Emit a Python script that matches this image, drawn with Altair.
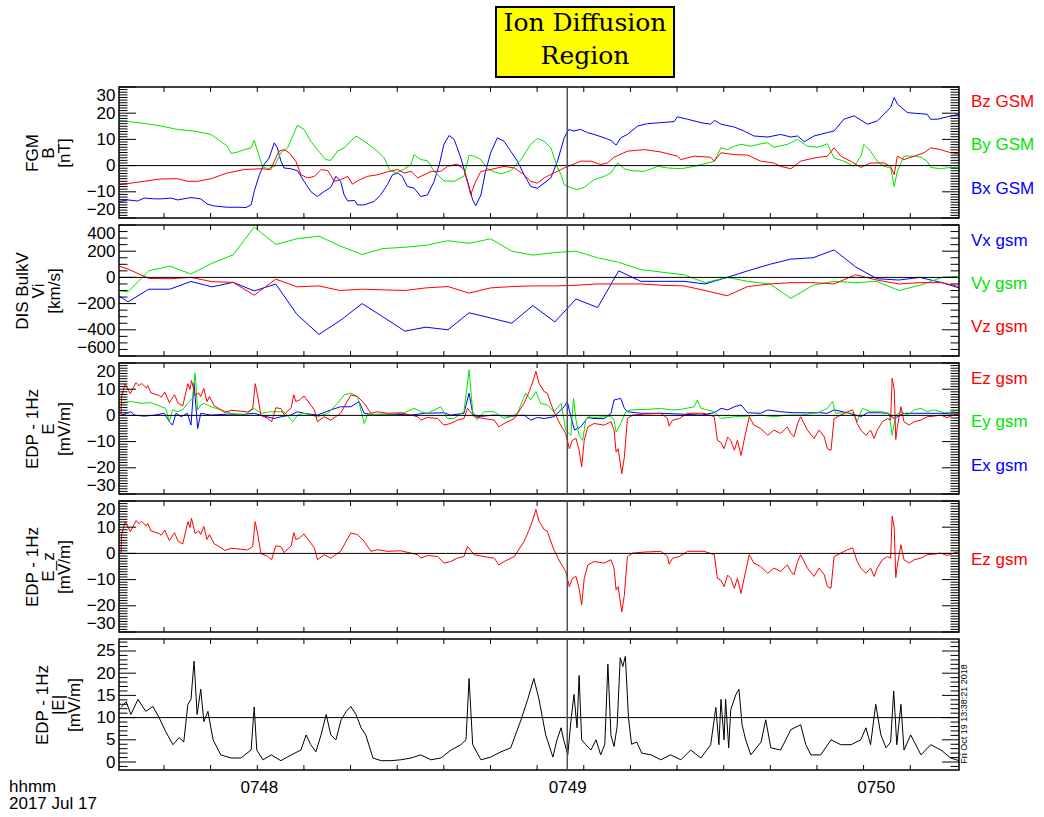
import math
import altair as alt
import pandas as pd

# ---------------- time axis: seconds after 07:47:00 UT, 2017 Jul 17 ----------------
T_START, T_END = 32.8, 196.2
T_MARK = 120.0                      # vertical marker line (07:49:00)
X_LABEL_VALUES = [60, 120, 180]
X_LABELS = ["0748", "0749", "0750"]
X_MINOR_TICKS = [41.55, 50.62, 59.70, 68.77, 77.84, 86.92, 95.99, 105.06, 114.13,
                 123.21, 132.28, 141.35, 150.43, 159.50, 168.57, 177.64, 186.72]

# ---------------- Panel 1: FGM B (nT) ----------------
bx_t = [32.8, 34.5, 36.4, 37.7, 39.7, 41.0, 42.9, 44.2, 46.8, 48.7, 50.0, 51.3, 53.9, 55.9, 57.5,
        58.5, 59.1, 60.1, 61.0, 62.0, 63.0, 63.6, 64.3, 64.9, 66.2, 67.5, 68.8, 70.1, 71.4, 72.7,
        74.0, 75.0, 75.9, 76.6, 77.3, 78.6, 79.2, 80.5, 82.4, 83.7, 85.0, 86.0, 87.0, 87.9, 88.9,
        90.2, 91.5, 92.8, 94.1, 95.1, 96.0, 97.0, 98.0, 99.3, 100.6, 101.6, 102.2, 103.2, 104.1,
        105.1, 106.4, 107.7, 109.0, 110.3, 111.6, 112.9, 114.2, 115.5, 116.8, 118.1, 119.4, 120.3,
        121.3, 122.6, 123.9, 125.2, 127.2, 128.5, 129.5, 130.4, 131.7, 133.7, 135.6, 138.2, 140.8,
        141.4, 143.4, 146.0, 147.9, 148.6, 149.9, 152.5, 154.4, 156.3, 159.0, 161.5, 163.5, 164.8,
        166.1, 168.0, 170.6, 171.9, 173.8, 175.8, 178.4, 180.3, 182.9, 183.6, 184.2, 186.2, 188.8,
        190.0, 190.7, 192.0, 193.9, 196.2]
bx_v = [-13.7, -13.1, -13.5, -12.4, -12.7, -12.7, -12.4, -13.1, -12.2, -12.7, -14.7, -15.4, -15.9,
        -15.9, -16.0, -15.0, -9.9, -3.5, 0.4, 2.9, 8.7, 6.8, 1.7, -0.9, -1.2, -1.9, -6.0, -9.9, -11.8,
        -9.9, -8.3, -4.1, -6.0, -11.2, -13.5, -13.3, -15.0, -15.0, -13.7, -11.2, -7.3, -3.5, -2.8,
        -4.1, -8.0, -8.6, -11.8, -11.2, -6.0, 0.4, 8.1, 11.5, 10.0, 2.9, -6.0, -13.1, -15.3, -11.2,
        -2.2, 4.9, 10.6, 9.3, 5.5, 1.7, -3.5, -8.0, -8.6, -6.7, -4.7, 1.7, 10.6, 13.8, 13.2, 13.8,
        12.6, 11.9, 10.6, 9.6, 7.8, 10.6, 11.9, 15.1, 16.0, 16.4, 16.8, 18.6, 17.7, 16.4, 15.8, 17.3,
        15.8, 14.7, 13.2, 11.3, 10.9, 11.9, 10.9, 11.3, 9.1, 11.3, 12.6, 13.2, 17.7, 19.0, 15.8, 17.0,
        22.2, 26.0, 23.5, 20.2, 19.8, 19.6, 17.7, 17.7, 18.6, 19.6]

by_t = [32.8, 34.5, 37.7, 41.0, 44.2, 47.4, 50.7, 53.9, 54.6, 55.9, 57.2, 58.5, 59.1, 60.7, 61.7,
        63.0, 64.3, 65.6, 67.5, 68.8, 70.1, 71.4, 73.0, 74.0, 75.3, 76.6, 78.9, 80.5, 83.1, 84.4,
        85.4, 86.7, 88.3, 89.6, 90.2, 91.5, 92.8, 94.1, 96.0, 98.0, 99.9, 100.9, 101.9, 103.2, 104.5,
        105.8, 107.1, 109.0, 111.0, 112.9, 114.2, 115.5, 116.8, 118.1, 118.8, 119.4, 120.1, 122.0,
        123.3, 125.2, 127.2, 128.5, 129.8, 131.1, 132.4, 135.0, 137.6, 139.5, 142.1, 144.7, 147.3,
        148.6, 149.9, 151.2, 152.5, 153.8, 155.7, 157.6, 159.0, 160.2, 162.8, 164.8, 166.7, 168.7,
        170.6, 171.9, 173.8, 175.8, 177.1, 177.7, 179.0, 180.3, 181.6, 182.9, 183.6, 184.2, 185.5,
        187.5, 188.8, 190.0, 190.7, 192.6, 194.6, 196.2]
by_v = [17.0, 16.8, 16.1, 15.1, 13.8, 13.2, 11.9, 7.4, 4.6, 5.2, 6.1, 6.8, 9.6, -0.3, -1.2, -0.3,
        4.9, 6.8, 15.4, 13.8, 9.3, 6.1, 2.3, 2.0, 5.5, 6.8, 11.3, 9.3, 5.5, 2.9, -1.6, -2.8, -1.3,
        0.4, 4.2, 2.3, 1.9, -2.2, -5.8, -6.0, -4.1, 4.0, 3.6, 2.3, -1.2, -2.4, -3.2, -1.9, 2.3, 8.1,
        10.4, 9.3, 6.8, -0.9, -3.5, -7.3, -8.0, -9.2, -8.3, -5.4, -4.1, -2.8, 1.0, -1.2, -1.9, -2.2,
        -0.3, -0.9, -1.2, -0.3, 1.0, 1.7, 6.8, 6.1, 7.4, 8.1, 7.4, 8.3, 8.7, 7.0, 8.1, 10.0, 7.4, 7.0,
        8.3, 2.9, 1.7, -0.3, 3.6, 8.1, 5.5, 1.7, -0.3, -0.9, -8.0, -2.2, 3.6, 3.6, 3.2, 1.7, -0.7,
        -1.2, -0.7, -0.9]

bz_t = [32.8, 35.1, 37.7, 39.7, 41.0, 44.2, 46.1, 48.1, 50.7, 53.9, 57.2, 60.4, 62.3, 63.3, 63.9,
        64.9, 65.9, 67.2, 68.2, 69.5, 70.8, 72.1, 73.4, 74.7, 75.9, 77.3, 78.2, 79.2, 81.1, 83.1,
        85.0, 87.0, 88.3, 89.6, 90.9, 93.5, 95.4, 96.7, 98.6, 99.9, 100.9, 101.2, 102.2, 103.2, 105.1,
        107.7, 109.7, 111.6, 112.9, 114.2, 115.5, 117.4, 119.4, 121.3, 122.6, 124.6, 126.5, 127.8,
        129.1, 131.7, 135.0, 138.2, 141.4, 142.1, 144.7, 147.9, 148.6, 149.9, 152.5, 155.1, 157.6,
        160.2, 161.5, 163.5, 165.4, 168.0, 170.6, 171.9, 173.2, 175.1, 177.1, 179.0, 181.6, 182.9,
        183.6, 184.2, 185.5, 187.5, 189.4, 190.7, 192.6, 194.6, 196.2]
bz_v = [-7.3, -6.7, -6.0, -5.4, -5.1, -5.0, -6.0, -6.0, -5.0, -2.8, -1.5, -1.2, -1.5, 2.9, 5.5, 6.1,
        4.9, 1.7, -3.5, -4.7, -4.1, -1.5, -1.9, -6.0, -5.4, -4.1, -7.1, -5.8, -4.1, -3.5, -2.4, -1.5,
        -2.8, -2.2, -4.7, -2.2, -2.2, -0.3, 0.6, -1.5, -8.6, -11.2, -6.0, -2.2, -1.5, -0.3, -0.9,
        -3.5, -6.0, -6.7, -4.7, -2.8, -0.9, 0.6, 1.7, 1.7, 0.4, 1.0, 3.2, 5.5, 6.1, 5.2, 3.6, 2.3,
        3.6, 3.2, 1.7, 4.9, 4.2, 4.0, 1.7, 1.0, -0.3, -1.2, 1.7, 2.9, 3.6, 6.8, 3.6, 1.7, -0.7, 1.0,
        1.0, -0.3, -3.5, 3.6, 2.3, 3.6, 4.9, 6.8, 6.1, 4.9, 4.5]

# ---------------- Panel 2: DIS bulk velocity (km/s) ----------------
v_t = [32.8, 34.55, 38.6, 42.7, 46.8, 50.9, 55.0, 59.1, 63.3, 67.4, 71.7, 75.8, 80.1, 84.1, 88.4,
       92.5, 96.8, 100.9, 105.1, 109.2, 113.3, 117.6, 121.7, 125.9, 130.0, 134.3, 138.4, 142.7,
       146.8, 151.1, 155.1, 159.4, 163.5, 167.8, 171.9, 176.1, 180.2, 184.5, 188.6, 192.9, 196.2]
vx_v = [-141, -187, -90, -90, -31, -72, -38, -103, -51, -282, -435, -330, -200, -300, -410, -380,
        -400, -270, -310, -350, -215, -340, -165, -230, 50, -30, -30, -30, -50, 0, 50, 100, 140, 150,
        210, 80, -10, -20, 0, -40, -80]
vy_v = [-103, -110, 51, 85, 26, 108, 172, 385, 251, 295, 315, 240, 175, 220, 230, 245, 280, 260, 295,
        200, 170, 190, 200, 150, 115, 60, 40, 20, -40, 0, -30, -50, -160, -60, -30, -40, -30, -100,
        -60, 0, 10]
vz_v = [85, 64, -8, -10, 0, -33, -38, -136, -13, -72, -65, -100, -90, -95, -100, -80, -70, -120, -80,
        -70, -65, -65, -60, -50, -50, -50, -60, -65, -100, -140, -70, -50, -40, -40, -50, 20, -20, -50,
        -40, -40, -70]

# ---------------- Panel 3/4: EDP E (mV/m) ----------------
ez_t = [33.2, 33.3, 34.0, 35.0, 36.1, 36.7, 37.2, 38.1, 38.4, 39.0, 40.6, 41.0, 41.7, 42.6, 43.6,
        44.3, 45.2, 46.2, 46.6, 46.9, 47.6, 48.3, 48.7, 49.3, 49.9, 50.4, 51.3, 52.3, 53.4, 54.6,
        56.5, 57.8, 58.8, 59.3, 59.8, 60.4, 61.7, 62.5, 63.3, 64.3, 64.9, 66.3, 66.8, 67.2, 67.9,
        68.8, 70.8, 71.4, 72.7, 74.0, 75.9, 77.9, 79.2, 80.5, 81.8, 83.1, 85.0, 87.6, 89.6, 90.9,
        91.5, 92.8, 94.8, 96.0, 97.3, 98.6, 99.9, 100.6, 101.9, 103.8, 105.8, 106.7, 107.7, 109.7,
        111.6, 112.6, 113.2, 113.9, 114.5, 115.5, 116.1, 116.8, 117.4, 118.7, 119.7, 120.4, 121.0,
        121.7, 122.3, 122.8, 123.3, 124.0, 125.2, 127.2, 128.5, 129.1, 129.5, 129.9, 130.6, 131.1,
        131.7, 132.7, 135.0, 138.2, 139.5, 139.8, 140.5, 141.8, 143.4, 146.6, 148.6, 149.2, 149.9,
        150.5, 151.2, 151.8, 152.5, 153.1, 153.8, 154.4, 155.4, 156.3, 157.6, 159.0, 160.2, 161.5,
        162.8, 163.5, 164.1, 164.8, 165.4, 166.7, 168.0, 169.0, 170.0, 170.6, 171.3, 171.9, 173.2,
        174.5, 175.5, 176.4, 177.1, 178.1, 179.0, 179.7, 180.3, 181.3, 182.3, 182.9, 183.2, 183.6,
        183.9, 184.2, 184.9, 185.5, 186.5, 187.5, 188.8, 190.0, 191.3, 192.6, 193.9, 195.2, 196.0]
ez_v = [0.0, 7.2, 12.1, 8.3, 12.5, 11.4, 12.2, 10.5, 11.4, 8.6, 7.6, 6.9, 8.9, 4.9, 7.9, 4.6, 3.6,
        12.1, 9.9, 13.4, 7.6, 8.6, 7.2, 10.3, 5.3, 7.2, 3.7, 2.6, 1.1, 2.0, 1.6, 1.3, 2.6, 12.1, 7.2,
        0.0, -1.1, -2.4, 2.9, 2.6, 0.3, 2.9, 7.9, 5.3, 5.9, 7.4, 2.1, -2.4, -0.5, -1.8, 0.8, 7.8, 7.2,
        4.6, 0.8, 1.4, 0.8, 1.0, 0.1, -0.5, -1.8, -0.8, -1.2, -3.7, -3.1, -1.8, -1.2, 2.7, -0.5, -1.2,
        -1.8, -4.4, -3.1, -1.2, 4.6, 9.1, 12.3, 16.8, 12.3, 9.1, 8.5, 4.6, 1.4, -3.7, -6.9, -12.7,
        -9.5, -8.8, -13.3, -19.7, -9.5, -4.4, -3.1, -3.7, -2.4, -5.6, -14.0, -12.7, -22.3, -16.0,
        -1.2, 0.1, 0.5, 0.8, -1.2, -4.1, -1.8, -1.2, 0.8, 0.8, -0.5, -9.5, -10.3, -12.7, -8.3, -9.5,
        -13.3, -9.5, -15.3, -9.5, -0.5, -3.7, -5.0, -7.6, -5.6, -6.9, -4.4, -6.9, -8.2, -3.1, -0.5,
        -5.6, -8.8, -5.6, -8.2, -12.7, -13.3, -1.2, 0.1, 1.4, 2.1, -3.1, -5.6, -7.6, -5.6, -8.8,
        -5.6, -2.4, -1.2, -1.8, 14.2, 9.7, -9.2, -4.6, 3.3, -2.4, -3.7, -2.4, -1.8, -0.5, -0.3, 0.1,
        -0.8, 0.1, 0.5]

ey_t = [33.2, 35.1, 37.1, 39.0, 41.0, 41.9, 42.6, 43.2, 44.2, 45.2, 46.1, 47.1, 47.6, 48.1, 48.7,
        49.4, 50.7, 52.6, 54.6, 57.2, 59.1, 60.4, 62.3, 64.9, 66.6, 67.5, 68.8, 71.4, 73.4, 75.3,
        76.6, 77.9, 79.2, 80.5, 81.1, 83.1, 86.3, 88.3, 90.2, 91.5, 92.8, 95.4, 96.7, 98.0, 99.9,
        100.9, 101.6, 102.5, 103.8, 105.8, 107.7, 109.0, 110.3, 111.9, 112.9, 113.9, 114.8, 116.1,
        117.4, 118.8, 119.7, 120.7, 121.2, 121.7, 122.3, 123.0, 123.6, 124.0, 125.2, 128.5, 129.1,
        129.5, 130.4, 131.4, 132.4, 135.6, 138.2, 140.1, 142.1, 144.7, 145.3, 146.0, 147.3, 148.6,
        149.9, 152.5, 155.1, 157.6, 160.2, 162.8, 165.4, 168.7, 170.6, 171.6, 172.2, 173.8, 175.8,
        176.4, 177.4, 179.0, 181.0, 182.6, 183.2, 183.9, 184.9, 186.2, 187.5, 188.8, 190.0, 191.3,
        193.3, 195.2, 196.0]
ey_v = [4.6, 5.3, 4.6, 4.9, 3.3, 2.7, -2.4, 2.1, 1.4, 2.1, 4.6, 6.5, 16.2, 2.1, 4.0, 4.6, 3.3, 2.1,
        0.8, 0.1, 2.7, 0.8, 1.4, 1.4, -2.4, 0.1, 0.8, -0.5, 0.8, 4.6, 7.8, 8.5, 7.2, -3.1, 0.1, 0.5,
        0.5, 1.0, 2.7, 1.4, 0.8, 3.3, -1.2, -1.2, 1.4, 17.4, 1.4, -1.8, 1.4, 1.4, -1.2, -0.5, 0.8,
        8.5, 5.9, 9.1, 4.6, 4.0, 1.4, 4.6, -5.6, -7.6, 6.5, -1.8, -7.6, -9.5, -1.8, -0.5, -0.8, -0.3,
        -1.8, -6.3, -3.1, 1.4, 2.1, 2.3, 2.7, 2.1, 2.3, 3.3, 5.9, 2.7, 2.1, 1.4, -1.2, -0.5, -0.3,
        0.1, -0.5, 0.1, 0.1, 1.0, 2.7, 5.3, 0.8, 1.0, 0.8, -2.4, 2.7, 1.4, 1.4, 0.8, -7.6, 0.1, 1.4,
        0.1, 2.1, 2.7, 1.4, 2.1, 1.0, 1.4, 1.2]

ex_t = [33.2, 35.1, 35.8, 37.7, 39.7, 41.6, 42.6, 43.2, 43.9, 44.9, 46.1, 46.8, 47.4, 48.1, 48.7,
        50.7, 53.9, 57.2, 59.1, 61.1, 63.0, 64.3, 66.2, 67.5, 68.8, 71.4, 74.0, 75.9, 77.9, 79.5,
        80.5, 83.1, 87.0, 89.6, 92.2, 96.0, 97.3, 99.9, 100.9, 101.6, 102.5, 105.8, 109.0, 111.6,
        112.9, 114.2, 115.5, 117.4, 119.4, 120.0, 120.7, 121.4, 122.6, 124.0, 125.2, 127.2, 128.5,
        129.1, 129.8, 130.4, 131.1, 131.7, 134.3, 138.2, 142.1, 146.0, 148.6, 149.9, 151.2, 152.5,
        153.8, 155.1, 157.6, 159.0, 161.5, 164.1, 166.7, 169.3, 170.6, 171.9, 174.5, 177.1, 178.4,
        181.0, 182.3, 183.6, 185.5, 187.5, 190.0, 192.6, 195.2, 196.0]
ex_v = [0.0, 1.4, 0.1, -0.3, 0.1, 0.8, -2.4, -3.7, 0.8, -0.5, 0.8, -3.7, 12.3, -5.0, 0.8, 0.1, 0.5,
        0.4, 0.8, -0.3, -1.2, -0.5, 0.1, 1.4, 0.8, 0.1, 2.1, 3.3, 3.3, 5.3, 0.8, 0.1, 0.4, 0.1, 0.8,
        1.0, 0.1, 0.8, 8.5, 0.8, -0.5, 0.1, -0.3, 0.1, -1.8, -0.8, -1.2, -0.5, 3.3, 5.3, -0.5, -5.6,
        -4.4, -0.8, -1.2, -1.2, 0.8, 5.9, 6.2, 6.5, 2.7, 1.4, 0.8, 0.8, 0.5, 0.1, 1.0, 2.7, 2.1, 3.3,
        4.0, 1.0, 0.8, 2.1, 1.4, 1.0, 1.0, 1.0, 0.8, 2.1, 1.0, -0.5, 1.0, 1.0, 0.8, -1.2, 0.8, 0.8,
        0.8, 0.8, 0.5, 0.5]

# ---------------- Panel 5: |E| (mV/m) ----------------
em_t = [33.2, 34.2, 35.1, 36.5, 38.0, 39.4, 40.6, 41.9, 43.3, 44.5, 45.4, 46.2, 46.8, 47.4, 48.0,
        48.7, 49.3, 50.1, 51.1, 52.6, 54.6, 56.5, 58.5, 59.1, 59.6, 60.8, 62.4, 64.3, 66.3, 68.2,
        69.2, 70.1, 71.1, 72.1, 73.1, 74.0, 75.0, 76.0, 77.0, 77.9, 78.9, 79.9, 80.8, 82.2, 83.8,
        85.7, 87.6, 89.6, 91.5, 93.5, 95.4, 97.4, 99.3, 100.3, 100.9, 101.6, 103.2, 105.1, 107.1,
        109.0, 111.0, 112.3, 113.5, 114.5, 115.8, 117.2, 118.0, 118.8, 119.3, 120.1, 120.7, 121.3,
        121.9, 122.3, 122.8, 123.6, 124.6, 125.6, 126.5, 127.3, 127.9, 128.5, 129.1, 129.7, 130.3,
        130.8, 131.3, 131.9, 132.5, 133.5, 134.5, 136.3, 138.2, 140.1, 142.1, 144.0, 146.0, 147.9,
        148.9, 149.5, 149.9, 150.5, 150.8, 151.4, 151.8, 152.8, 153.4, 154.0, 154.7, 155.7, 157.7,
        158.6, 159.6, 161.5, 163.5, 165.4, 166.4, 167.4, 169.3, 171.3, 173.2, 175.2, 177.1, 178.1,
        179.0, 180.0, 181.0, 182.0, 182.9, 183.5, 184.1, 184.9, 185.5, 186.8, 188.8, 190.7, 192.7,
        194.6, 196.2]
em_v = [12.3, 13.6, 10.7, 14.1, 11.4, 12.5, 10.0, 6.8, 3.9, 5.5, 4.5, 13.0, 14.1, 22.7, 10.7, 16.4,
        9.1, 11.4, 5.0, 1.6, 0.9, 0.9, 2.7, 12.4, 2.7, 0.5, 1.6, 0.3, 1.6, 2.7, 6.1, 3.9, 2.3, 6.1,
        10.7, 6.1, 5.0, 9.5, 11.4, 12.5, 10.7, 7.7, 6.1, 0.9, 0.3, 0.3, 0.5, 0.9, 1.6, 0.5, 0.9, 2.7,
        3.9, 5.0, 18.8, 3.9, 0.5, 1.1, 2.3, 3.2, 9.5, 14.1, 18.8, 14.1, 6.1, 1.1, 5.0, 7.7, 5.0, 1.6,
        9.1, 15.2, 7.7, 19.5, 5.0, 3.9, 2.7, 5.0, 1.6, 4.0, 22.0, 6.0, 3.5, 8.0, 23.5, 21.5, 23.8,
        10.0, 4.0, 4.5, 2.0, 1.6, 0.5, 1.6, 0.5, 2.7, 0.9, 3.9, 12.3, 3.9, 14.1, 5.0, 14.1, 3.2, 11.8,
        15.2, 16.4, 8.4, 5.0, 1.6, 4.5, 9.5, 3.2, 2.7, 7.3, 8.4, 3.9, 1.6, 1.6, 5.0, 3.9, 3.9, 5.0,
        7.7, 3.9, 13.0, 6.1, 3.2, 4.5, 16.0, 3.9, 13.0, 2.7, 6.1, 1.6, 3.9, 2.7, 0.9, 0.3]

# ---------------- styling ----------------
FONT = "Liberation Sans"
RED, GREEN, BLUE = "#ff0000", "#00e600", "#0000ff"
W, H = 840, 131
GAP = 3
FS = 17
ONE = pd.DataFrame({"k": [0]})

xscale = alt.Scale(domain=[T_START, T_END], nice=False, zero=False)


def minor_values(lo, hi, step, majors):
    out = []
    for n in range(math.ceil(lo / step - 1e-9), math.floor(hi / step + 1e-9) + 1):
        v = round(n * step, 6)
        if all(abs(v - m) > 1e-9 for m in majors):
            out.append(v)
    return out


def build_panel(series, ydomain, majors, minor_step, title_lines, ref_value, labels,
                flush=True, bottom=False, extra=None):
    yscale = alt.Scale(domain=ydomain, nice=False, zero=False)
    layers = []
    yaxis = alt.Axis(values=majors, ticks=False, domain=False, grid=False, labelPadding=4,
                     labelFlush=flush, labelFontSize=FS, labelFont=FONT, labelColor="black",
                     title=title_lines, titleFontSize=FS, titleFont=FONT, titleColor="black",
                     titleFontWeight="normal", titlePadding=13, titleLineHeight=16)
    if bottom:
        expr = " : ".join(f"datum.value == {v} ? '{s}'" for v, s in zip(X_LABEL_VALUES, X_LABELS)) + " : ''"
        xaxis = alt.Axis(values=X_LABEL_VALUES, labelExpr=expr, ticks=False, domain=False,
                         grid=False, labelFontSize=FS, labelFont=FONT, labelColor="black",
                         labelPadding=9, title=None)
    else:
        xaxis = None

    def X(field="t"):
        return alt.X(f"{field}:Q", scale=xscale, axis=xaxis)

    def Y(field="v"):
        return alt.Y(f"{field}:Q", scale=yscale, axis=yaxis)

    for ts, vs, col in series:
        df = pd.DataFrame({"t": ts, "v": vs})
        layers.append(
            alt.Chart(df).mark_line(color=col, strokeWidth=1, clip=True).encode(
                x=X(), y=Y(), order="t:Q"))
    # reference horizontal line
    layers.append(alt.Chart(pd.DataFrame({"v": [ref_value]})).mark_rule(color="black", strokeWidth=1)
                  .encode(y=Y()))
    # vertical marker
    layers.append(alt.Chart(pd.DataFrame({"t": [T_MARK]})).mark_rule(color="#505050", strokeWidth=1.5)
                  .encode(x=X()))
    # inward y ticks on both sides
    minors = minor_values(ydomain[0], ydomain[1], minor_step, majors)
    for vals, ln in ((majors, 17), (minors, 8.5)):
        dft = pd.DataFrame({"v": vals})
        layers.append(alt.Chart(dft).mark_rule(color="black", strokeWidth=1).encode(
            y=Y(), x=alt.value(0), x2=alt.value(ln)))
        layers.append(alt.Chart(dft).mark_rule(color="black", strokeWidth=1).encode(
            y=Y(), x=alt.value(W), x2=alt.value(W - ln)))
    # inward x ticks top and bottom
    dfx = pd.DataFrame({"t": X_MINOR_TICKS})
    layers.append(alt.Chart(dfx).mark_rule(color="black", strokeWidth=1).encode(
        x=X(), y=alt.value(0), y2=alt.value(5)))
    layers.append(alt.Chart(dfx).mark_rule(color="black", strokeWidth=1).encode(
        x=X(), y=alt.value(H), y2=alt.value(H - 5)))
    # right-hand labels
    for txt, col, ypos in labels:
        layers.append(alt.Chart(ONE).mark_text(align="left", baseline="middle", font=FONT,
                                               fontSize=FS, color=col)
                      .encode(x=alt.value(W + 12), y=alt.value(ypos), text=alt.value(txt)))
    if extra:
        layers.extend(extra)
    return alt.layer(*layers).properties(width=W, height=H)


# title box (drawn above the first panel)
title_extra = [
    alt.Chart(ONE).mark_rect(fill="#ffff00", stroke="black", strokeWidth=2).encode(
        x=alt.value(377), x2=alt.value(555), y=alt.value(-80), y2=alt.value(-10)),
    alt.Chart(ONE).mark_text(font="DejaVu Serif", fontSize=25, color="black", align="center",
                             baseline="middle").encode(
        x=alt.value(466), y=alt.value(-64), text=alt.value("Ion Diffusion")),
    alt.Chart(ONE).mark_text(font="DejaVu Serif", fontSize=25, color="black", align="center",
                             baseline="middle").encode(
        x=alt.value(466), y=alt.value(-31), text=alt.value("Region")),
]

bottom_extra = [
    alt.Chart(ONE).mark_text(font=FONT, fontSize=FS, color="black", align="left", baseline="middle")
    .encode(x=alt.value(-110), y=alt.value(148), text=alt.value("hhmm")),
    alt.Chart(ONE).mark_text(font=FONT, fontSize=FS, color="black", align="left", baseline="middle")
    .encode(x=alt.value(-110), y=alt.value(165), text=alt.value("2017 Jul 17")),
    alt.Chart(ONE).mark_text(font=FONT, fontSize=9, color="black", align="center", baseline="middle",
                             angle=270)
    .encode(x=alt.value(845), y=alt.value(75), text=alt.value("Fri Oct 19 13:38:21 2018")),
]

p1 = build_panel([(bx_t, bx_v, BLUE), (by_t, by_v, GREEN), (bz_t, bz_v, RED)],
                 [-20, 30], [-20, -10, 0, 10, 20, 30], 1, ["FGM", "B", "[nT]"], 0,
                 [("Bz GSM", RED, 15), ("By GSM", GREEN, 58), ("Bx GSM", BLUE, 102)],
                 extra=title_extra)
p2 = build_panel([(v_t, vx_v, BLUE), (v_t, vy_v, GREEN), (v_t, vz_v, RED)],
                 [-600, 400], [-600, -400, -200, 0, 200, 400], 50, ["DIS BulkV", "Vi", "[km/s]"], 0,
                 [("Vx gsm", BLUE, 16), ("Vy gsm", GREEN, 59), ("Vz gsm", RED, 102)])
p3 = build_panel([(ex_t, ex_v, BLUE), (ey_t, ey_v, GREEN), (ez_t, ez_v, RED)],
                 [-30, 20], [-30, -20, -10, 0, 10, 20], 1, ["EDP - 1Hz", "E", "[mV/m]"], 0,
                 [("Ez gsm", RED, 16), ("Ey gsm", GREEN, 59), ("Ex gsm", BLUE, 103)])
p4 = build_panel([(ez_t, ez_v, RED)],
                 [-30, 20], [-30, -20, -10, 0, 10, 20], 1, ["EDP - 1Hz", "E_z", "[mV/m]"], 0,
                 [("Ez gsm", RED, 59)])
p5 = build_panel([(em_t, em_v, "black")],
                 [-1.8, 27.7], [0, 5, 10, 15, 20, 25], 1, ["EDP - 1Hz", "|E|", "[mV/m]"], 10,
                 [], flush=False, bottom=True, extra=bottom_extra)

chart = (
    alt.vconcat(p1, p2, p3, p4, p5, spacing=GAP)
    .properties(padding={"left": 8, "top": 5, "right": 0, "bottom": 0}, background="white")
    .configure_view(stroke="black", strokeWidth=1.5)
)

chart.save("out.html", embed_options={"renderer": "svg", "actions": False})
